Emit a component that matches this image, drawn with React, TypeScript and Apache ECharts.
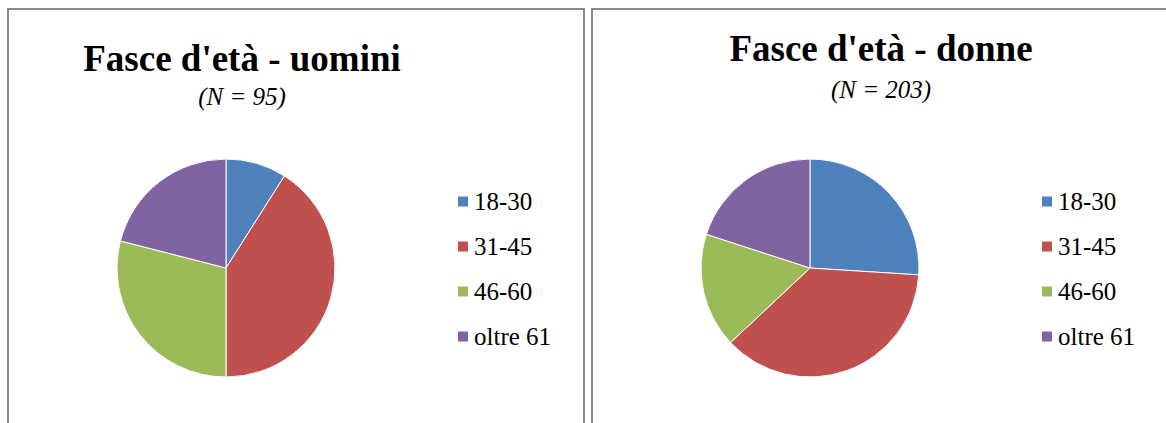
import React, { useEffect, useRef } from "react";
import * as echarts from "echarts";

const categories = ["18-30", "31-45", "46-60", "oltre 61"];
const menValues = [9, 41, 29, 21];
const womenValues = [26, 37, 17, 20];
const colors = ["#4F81BD", "#C0504D", "#9BBB59", "#8064A2"];
const menTitle = "Fasce d'età - uomini";
const menSub = "(N = 95)";
const womenTitle = "Fasce d'età - donne";
const womenSub = "(N = 203)";

const serif = "Times New Roman";

function pieSeries(values: number[], center: [number, number]) {
  const data = categories.map((name, i) => ({ name, value: values[i] }));
  return [
    {
      type: "pie",
      center,
      radius: [0, 109],
      startAngle: 90,
      clockwise: true,
      data,
      label: { show: false },
      labelLine: { show: false },
      emphasis: { disabled: true },
      itemStyle: { borderColor: "#ffffff", borderWidth: 1 },
    },
    {
      type: "pie",
      center,
      radius: [46, 109],
      startAngle: 90,
      clockwise: true,
      data,
      emphasis: { disabled: true },
      itemStyle: { opacity: 0 },
      labelLine: { show: false },
      label: {
        show: true,
        position: "inside",
        formatter: "{c}%",
        fontFamily: serif,
        fontSize: 26,
        color: "#000",
      },
    },
  ];
}

function legendOf(left: number) {
  return {
    orient: "vertical",
    left,
    top: 189,
    padding: 0,
    itemWidth: 12,
    itemHeight: 12,
    itemGap: 20,
    icon: "rect",
    data: categories,
    textStyle: { fontFamily: serif, fontSize: 25, color: "#000" },
  };
}

function titleText(text: string, x: number, y: number, size: number, weight: string, fstyle: string) {
  return {
    type: "text",
    x,
    y,
    style: {
      text,
      fontFamily: "Liberation Serif",
      fontSize: size,
      fontWeight: weight,
      fontStyle: fstyle,
      fill: "#000",
      align: "center",
      verticalAlign: "top",
    },
  };
}

export default function App() {
  const ref = useRef<HTMLDivElement>(null);
  useEffect(() => {
    document.body.style.margin = "0";
    const chart = echarts.init(ref.current!, undefined, { renderer: "svg" });
    chart.setOption({
      animation: false,
      color: colors,
      legend: [legendOf(456), legendOf(1040)],
      graphic: [
        {
          type: "polyline",
          shape: { points: [[8, 423], [8, 9], [584, 9], [584, 423]] },
          style: { fill: "none", stroke: "#8a8a8a", lineWidth: 2 },
          z: -1,
        },
        {
          type: "polyline",
          shape: { points: [[592, 423], [592, 9], [1166, 9]] },
          style: { fill: "none", stroke: "#8a8a8a", lineWidth: 2 },
          z: -1,
        },
        titleText(menTitle, 242, 40, 37, "bold", "normal"),
        titleText(menSub, 242, 84, 25, "normal", "italic"),
        titleText(womenTitle, 881, 30, 37, "bold", "normal"),
        titleText(womenSub, 881, 77, 25, "normal", "italic"),
      ],
      series: [...pieSeries(menValues, [226, 268]), ...pieSeries(womenValues, [810, 268])],
    });
    return () => chart.dispose();
  }, []);
  return <div ref={ref} style={{ width: 1166, height: 423 }} />;
}
